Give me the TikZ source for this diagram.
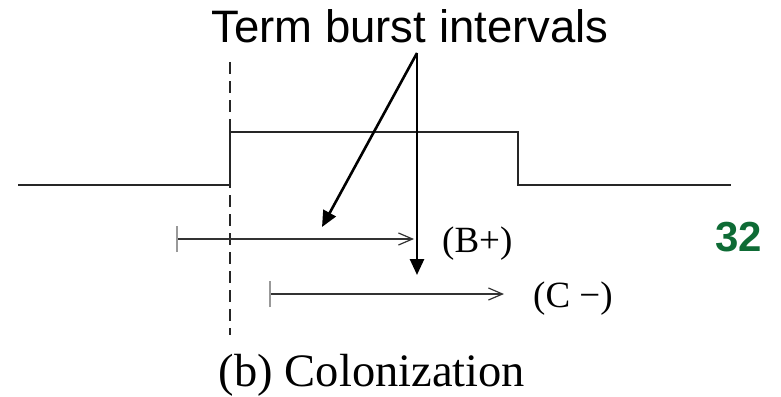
\documentclass[tikz,border=0pt]{standalone}
\usepackage{fontspec}
\setmainfont{Liberation Serif}
\newfontfamily\titlefont{Liberation Sans}
\usetikzlibrary{arrows.meta,positioning}
\definecolor{slideGreen}{HTML}{0E6B35}

\begin{document}
\begin{tikzpicture}[x=1pt,y=-1pt,
    signal/.style={line width=2pt,black!85,line join=miter},
    cutline/.style={line width=1.6pt,black!85,dash pattern=on 12pt off 7pt},
    interval/.style={line width=1.4pt,black!80,
      {Bar[width=26pt,line width=2pt,color=black!40]}-{Straight Barb[length=14pt,width=12pt,line width=1.2pt]}},
    pointer/.style={line width=2.6pt,-{Triangle[length=16pt,width=14pt]}},
    lbl/.style={inner sep=0pt,anchor=base west,font=\fontsize{37}{40}\selectfont}]
  \useasboundingbox (0,0) rectangle (781,396);

  % burst signal
  \coordinate (lo1) at (18,185);
  \coordinate (up1) at (230,132);
  \coordinate (up2) at (518,132);
  \coordinate (lo2) at (731,185);
  \draw[signal] (lo1) -| (up1) -- (up2) |- (lo2);

  % change point
  \coordinate (cut1) at (230,62);
  \coordinate (cut2) at (230,335);
  \draw[cutline] (cut1) -- (cut2);

  % intervals
  \coordinate (b0) at (176,239);
  \coordinate (b1) at (414,239);
  \coordinate (c0) at (269,294);
  \coordinate (c1) at (504,294);
  \draw[interval] (b0) -- (b1);
  \draw[interval] (c0) -- (c1);
  \node[lbl] (bplus) at (442,252) {(B+)};
  \node[lbl] (cminus) at (533,307) {(C −)};

  % title and pointers
  \node[inner sep=0pt,anchor=base,font=\titlefont\fontsize{45.5}{50}\selectfont]
    (title) at (410,43) {Term burst intervals};
  \coordinate (apex) at (417,53);
  \coordinate (tipB) at (322,227);
  \coordinate (tipC) at (417,275);
  \draw[pointer] (apex) -- (tipB);
  \draw[pointer] (apex) -- (tipC);

  \node[inner sep=0pt,anchor=base,font=\fontsize{46.5}{50}\selectfont]
    (caption) at (372,386) {(b) Colonization};
  \node[inner sep=0pt,anchor=base west,text=slideGreen,
        font=\titlefont\bfseries\fontsize{42}{46}\selectfont]
    (pagenum) at (715,251) {32};
\end{tikzpicture}
\end{document}
